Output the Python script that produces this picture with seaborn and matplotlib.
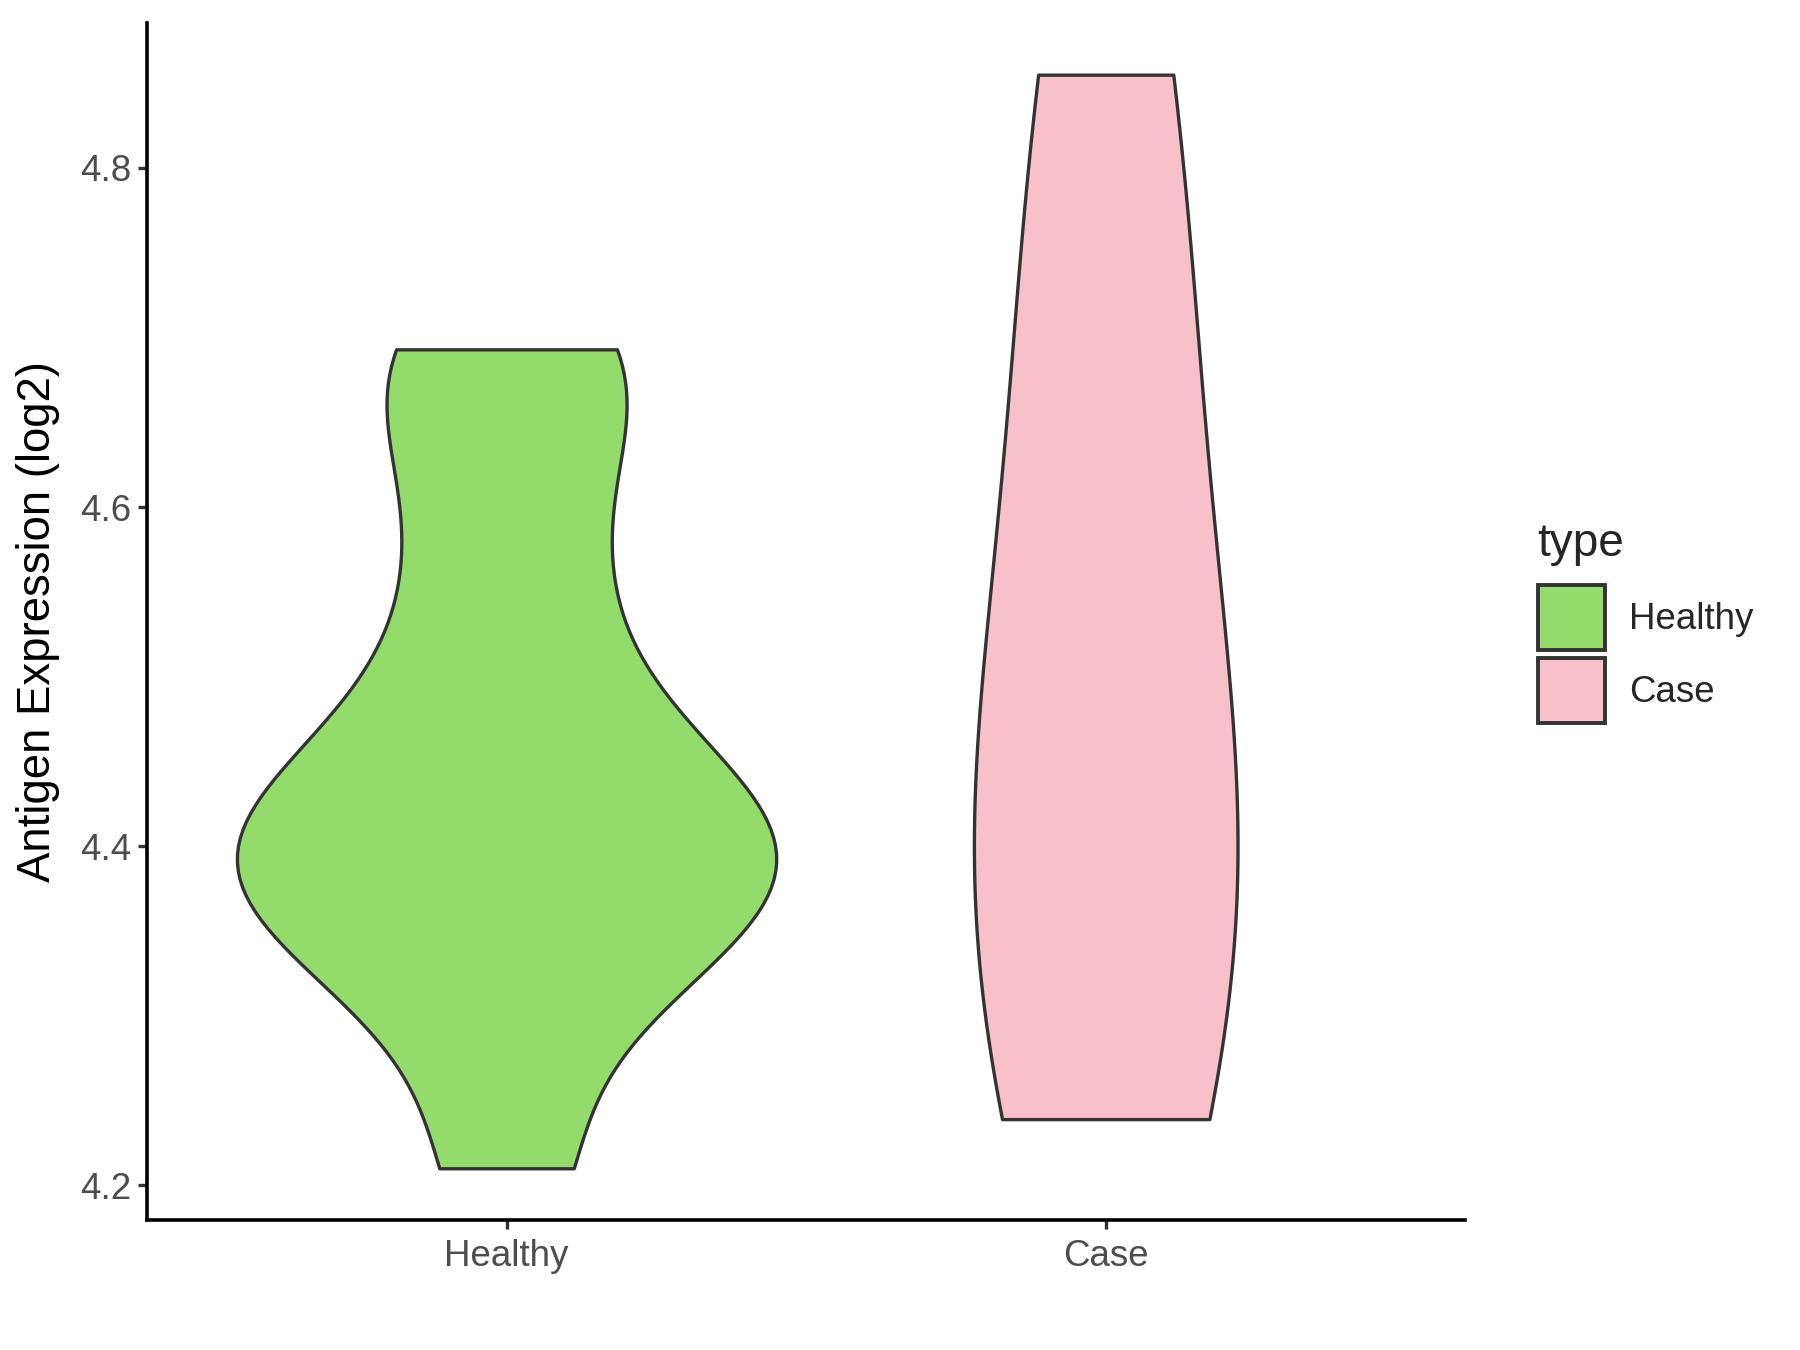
import numpy as np
import pandas as pd
import seaborn as sns
import matplotlib.pyplot as plt
from matplotlib.patches import Patch

# ---- data ----
categories = ["Healthy", "Case"]
healthy_values = [4.21, 4.32, 4.35, 4.38, 4.40, 4.41, 4.44, 4.50, 4.58, 4.67, 4.693]
case_values = [4.239, 4.29, 4.35, 4.39, 4.43, 4.50, 4.70, 4.79, 4.855]
kde_bandwidth = {"Healthy": 0.06, "Case": 0.185}
violin_width = {"Healthy": 0.9, "Case": 0.44}
fill_colors = {"Healthy": "#93DB6B", "Case": "#F7C0CB"}
y_ticks = [4.2, 4.4, 4.6, 4.8]
y_label = "Antigen Expression (log2)"
legend_title = "type"

df = pd.DataFrame({
    "type": ["Healthy"] * len(healthy_values) + ["Case"] * len(case_values),
    "value": healthy_values + case_values,
})

sns.set_theme(style="ticks")
plt.rcParams["font.family"] = ["Liberation Sans", "DejaVu Sans"]

fig = plt.figure(figsize=(9, 6.75), dpi=200)
ax = fig.add_axes([0.0817, 0.0963, 0.8140 - 0.0817, 0.983 - 0.0963])

edge = "#333333"
for cat in categories:
    sub = df[df["type"] == cat]
    factor = kde_bandwidth[cat] / np.std(sub["value"], ddof=1)
    sns.violinplot(
        data=sub, x="type", y="value", hue="type",
        order=categories, hue_order=categories, palette=fill_colors,
        dodge=False, width=violin_width[cat], bw_method=factor, cut=0,
        inner=None, linewidth=1.2, linecolor=edge, saturation=1,
        density_norm="area", legend=False, ax=ax,
    )

ax.set_xlim(-0.6, 1.6)
ax.set_ylim(4.1795, 4.8855)
ax.set_yticks(y_ticks)
ax.set_yticklabels([f"{t:.1f}" for t in y_ticks])
ax.set_xlabel("")
ax.set_ylabel(y_label, fontsize=16.4, color="black", labelpad=7)

for s in ["top", "right"]:
    ax.spines[s].set_visible(False)
for s in ["left", "bottom"]:
    ax.spines[s].set_color("black")
    ax.spines[s].set_linewidth(1.3)
ax.tick_params(axis="both", length=3.3, width=1.2, color=edge,
               labelsize=13.2, labelcolor="#4D4D4D")
ax.tick_params(axis="y", pad=2.5)
ax.tick_params(axis="x", pad=3.5)

handles = [Patch(facecolor=fill_colors[c], edgecolor=edge, linewidth=1.4, label=c)
           for c in categories]
leg = ax.legend(handles=handles, title=legend_title, loc="center left",
                bbox_to_anchor=(0.844, 0.539), bbox_transform=fig.transFigure,
                frameon=False, fontsize=13.2, title_fontsize=16.5,
                handlelength=1.84, handleheight=2.35, handletextpad=0.65,
                labelspacing=0.2, borderpad=0, alignment="left")
leg._legend_box.sep = 7

fig.savefig("out.png", dpi=200, facecolor="white")
